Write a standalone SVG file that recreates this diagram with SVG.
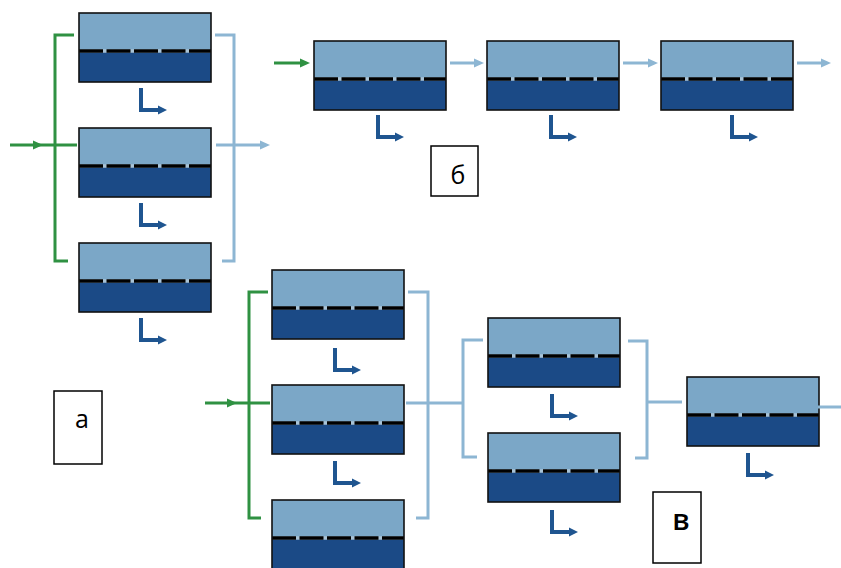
<svg xmlns="http://www.w3.org/2000/svg" xmlns:xlink="http://www.w3.org/1999/xlink" width="841" height="568" viewBox="0 0 841 568">
<style>
.g{fill:none;stroke:#2f9142;stroke-width:3}
.b{fill:none;stroke:#8db6d3;stroke-width:3}
.ga{fill:#2f9142}
.ba{fill:#8db6d3}
.lbl{fill:#fff;stroke:#000;stroke-width:1.5}
.t{font-family:"Open Sans","Liberation Sans",sans-serif;font-size:25px;fill:#000;text-anchor:middle}
.tv{font-size:29px;font-weight:600}
</style>
<defs>
<g id="mod">
<rect x="0" y="0" width="132" height="38" fill="#7ba7c7"/>
<rect x="0" y="38" width="132" height="31" fill="#1b4a86"/>
<line x1="0" y1="38" x2="132" y2="38" stroke="#a9c3d6" stroke-width="3.5"/>
<line x1="0" y1="38" x2="132" y2="38" stroke="#000" stroke-width="3.5" stroke-dasharray="24 3.5"/>
<rect x="0" y="0" width="132" height="69" fill="none" stroke="#111" stroke-width="1.6"/>
</g>
<g id="drain">
<path d="M0,0 V22 H19" fill="none" stroke="#1f5590" stroke-width="4"/>
<path d="M17,17.5 L26,22 L17,26.5 Z" fill="#1f5590"/>
</g>
</defs>

<!-- group a nodes -->
<g id="a1"><use xlink:href="#mod" x="79" y="13"/><use xlink:href="#drain" x="141" y="88"/></g>
<g id="a2"><use xlink:href="#mod" x="79" y="128"/><use xlink:href="#drain" x="141" y="203"/></g>
<g id="a3"><use xlink:href="#mod" x="79" y="243"/><use xlink:href="#drain" x="141" y="318"/></g>

<!-- group b nodes -->
<g id="b1"><use xlink:href="#mod" x="314" y="41"/><use xlink:href="#drain" x="378" y="115"/></g>
<g id="b2"><use xlink:href="#mod" x="487" y="41"/><use xlink:href="#drain" x="551" y="115"/></g>
<g id="b3"><use xlink:href="#mod" x="661" y="41"/><use xlink:href="#drain" x="732" y="115"/></g>

<!-- group v nodes -->
<g id="v1"><use xlink:href="#mod" x="272" y="270"/><use xlink:href="#drain" x="335" y="348"/></g>
<g id="v2"><use xlink:href="#mod" x="272" y="385"/><use xlink:href="#drain" x="335" y="461"/></g>
<g id="v3"><use xlink:href="#mod" x="272" y="500"/></g>
<g id="v4"><use xlink:href="#mod" x="488" y="318"/><use xlink:href="#drain" x="552" y="394"/></g>
<g id="v5"><use xlink:href="#mod" x="488" y="433"/><use xlink:href="#drain" x="552" y="510"/></g>
<g id="v6"><use xlink:href="#mod" x="687" y="377"/><use xlink:href="#drain" x="748" y="453"/></g>

<!-- connectors -->
<g id="connectors">
<!-- a -->
<path class="g" d="M10,145 H77"/>
<path class="ga" d="M33,140.5 L43,145 L33,149.5 Z"/>
<path class="g" d="M74,35 H55 V261 H68"/>
<path class="b" d="M215,35 H234 V261 H222"/>
<path class="b" d="M216,145 H262"/>
<path class="ba" d="M260,140.5 L270,145 L260,149.5 Z"/>
<!-- b -->
<path class="g" d="M274,63 H302"/>
<path class="ga" d="M300,58.5 L310,63 L300,67.5 Z"/>
<path class="b" d="M450,63 H476"/>
<path class="ba" d="M474,58.5 L484,63 L474,67.5 Z"/>
<path class="b" d="M623,63 H650"/>
<path class="ba" d="M648,58.5 L658,63 L648,67.5 Z"/>
<path class="b" d="M797,63 H823"/>
<path class="ba" d="M821,58.5 L831,63 L821,67.5 Z"/>
<!-- v -->
<path class="g" d="M205,403 H270"/>
<path class="ga" d="M227,398.5 L237,403 L227,407.5 Z"/>
<path class="g" d="M268,292 H249 V518 H261"/>
<path class="b" d="M408,292 H428 V518 H416"/>
<path class="b" d="M406,403 H463"/>
<path class="b" d="M483,340 H463 V457 H477"/>
<path class="b" d="M628,341 H647 V458 H635"/>
<path class="b" d="M647,402 H682"/>
<path class="b" d="M818,407 H841"/>
</g>

<!-- labels -->
<g id="label-a"><rect class="lbl" x="54" y="391" width="48" height="73"/><text class="t" x="82" y="428">а</text></g>
<g id="label-b"><rect class="lbl" x="431" y="146" width="47" height="50"/><text class="t" x="458" y="184">б</text></g>
<g id="label-v"><rect class="lbl" x="653" y="492" width="48" height="71"/><text class="t tv" x="681" y="530">в</text></g>
</svg>
